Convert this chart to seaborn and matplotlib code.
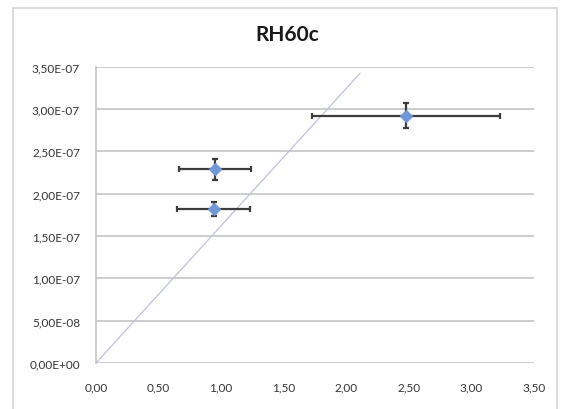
import matplotlib
matplotlib.use("Agg")
import matplotlib.pyplot as plt
import seaborn as sns
import pandas as pd
from matplotlib.patches import Rectangle
from matplotlib.ticker import FuncFormatter, MultipleLocator

# %% DATA
x_vals = [2.48, 0.95, 0.94]
y_vals = [2.92e-7, 2.285e-7, 1.82e-7]
x_err = [0.75, 0.29, 0.29]
y_err = [1.45e-8, 1.2e-8, 0.8e-8]

# reference line
ref_x = [0.0, 2.11]
ref_y = [0.0, 3.42e-7]

title = "RH60c"

df = pd.DataFrame({"x": x_vals, "y": y_vals})

# %% STYLE
sns.set_style("white")
plt.rcParams["font.family"] = ["Lato", "DejaVu Sans"]

fig = plt.figure(figsize=(5.61, 4.10), dpi=100)
ax = fig.add_axes([96 / 561, 1 - 364 / 410, (534 - 96) / 561, (364 - 67.5) / 410])

# chart area border
fig.patches.append(
    Rectangle((13 / 561, -0.1), (557 - 13) / 561, 0.1 + 1 - 9 / 410,
              transform=fig.transFigure, fill=False, edgecolor="#d4d4d4",
              linewidth=1.2, zorder=0)
)

# %% PLOT
ax.plot(ref_x, ref_y, color="#bcc3da", linewidth=0.9, zorder=2)
ax.errorbar(x_vals, y_vals, xerr=x_err, yerr=y_err, fmt="none",
            ecolor="#3c3c3c", elinewidth=1.6, capsize=2.4, capthick=1.6, zorder=3)
sns.scatterplot(data=df, x="x", y="y", marker="D", s=42, color="#7196d6",
                edgecolor="#7196d6", linewidth=0.5, zorder=4, ax=ax)

ax.set_xlim(0, 3.5)
ax.set_ylim(0, 3.5e-7)
ax.xaxis.set_major_locator(MultipleLocator(0.5))
ax.yaxis.set_major_locator(MultipleLocator(5e-8))
ax.xaxis.set_major_formatter(FuncFormatter(lambda v, p: f"{v:.2f}".replace(".", ",")))
ax.yaxis.set_major_formatter(FuncFormatter(lambda v, p: f"{v:.2E}".replace(".", ",")))
ax.set_xlabel("")
ax.set_ylabel("")

ax.grid(axis="y", color="#c4c4c4", linewidth=1.2)
ax.set_axisbelow(True)
for side in ["top", "right", "bottom"]:
    ax.spines[side].set_visible(False)
ax.spines["left"].set_color("#c4c4c4")
ax.spines["left"].set_linewidth(1.2)
ax.tick_params(axis="both", length=0, labelsize=8.5, labelcolor="#333333")
ax.tick_params(axis="y", pad=11.5)
ax.tick_params(axis="x", pad=13)

fig.text(287 / 561, 1 - 35 / 410, title, ha="center", va="center",
         fontsize=15, fontweight="bold", color="#1a1a1a")

fig.savefig("out.png", dpi=100)
